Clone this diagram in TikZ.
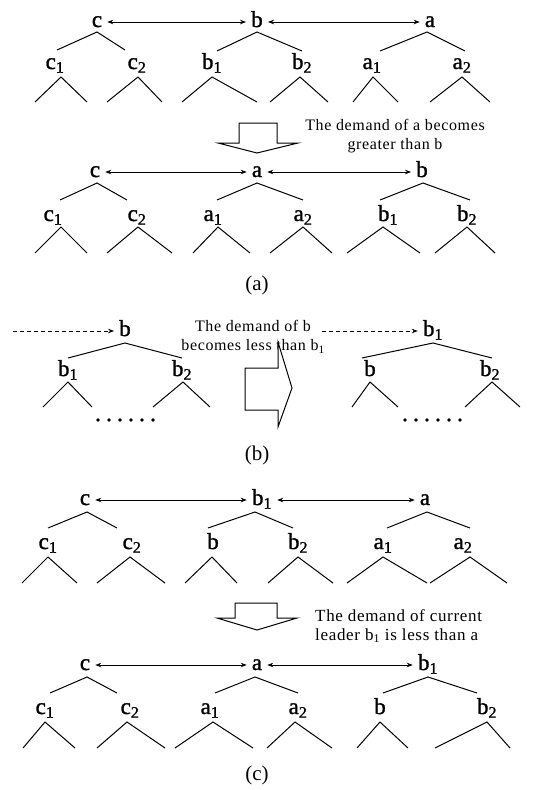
\documentclass[tikz,border=0pt]{standalone}
\usepackage{fontspec}
\setmainfont{Liberation Serif}
\newfontfamily\lblfont[FakeBold=1.2]{Liberation Serif}
\usetikzlibrary{arrows.meta}
\newcommand\sub[1]{\textsubscript{#1}}
\newcommand\branch[6]{\coordinate (#1t) at (#2,#3); \coordinate (#1l) at (#4,#6); \coordinate (#1r) at (#5,#6); \draw[br] (#1l) -- (#1t) -- (#1r);}
\tikzset{
 lbl/.style={anchor=base, inner sep=0pt, inner xsep=5pt, text height=10pt, text depth=0pt, font=\lblfont\fontsize{23}{25}\selectfont},
 link/.style={{Stealth[length=6pt,width=4.5pt]}-{Stealth[length=6pt,width=4.5pt]}, line width=0.8pt},
 dlink/.style={-{Stealth[length=6pt,width=4.5pt]}, dash pattern=on 4pt off 3pt, line width=0.8pt},
 br/.style={line width=1pt},
 blk/.style={draw, line width=1pt, fill=white},
 note/.style={font=\fontsize{16}{19}\selectfont\addfontfeature{LetterSpace=4}, align=center, inner sep=0pt},
 capt/.style={font=\fontsize{21}{23}\selectfont, inner sep=0pt}
}
\begin{document}
\begin{tikzpicture}[x=1pt,y=-1pt]
\fill[white] (0,0) rectangle (543,790);
\useasboundingbox (0,0) rectangle (543,790);
% ---------- (a) row 1
\node[lbl] (a1c) at (97,27) {c};
\node[lbl] (a1b) at (257,27) {b};
\node[lbl] (a1a) at (430,27) {a};
\draw[link] (a1c) -- (a1b);
\draw[link] (a1b) -- (a1a);
\branch{a1C}{97}{32}{57}{125}{50}
\branch{a1B}{257}{32}{217}{302}{51}
\branch{a1A}{427}{32}{380}{465}{51}
\node[lbl] (a1c1) at (55,69) {c\sub1};
\node[lbl] (a1c2) at (137,69) {c\sub2};
\node[lbl] (a1b1) at (212,69) {b\sub1};
\node[lbl] (a1b2) at (302,69) {b\sub2};
\node[lbl] (a1a1) at (372,69) {a\sub1};
\node[lbl] (a1a2) at (462,69) {a\sub2};
\branch{a1g1}{61}{77}{35}{87}{102}
\branch{a1g2}{138}{77}{107}{162}{102}
\branch{a1g3}{212}{77}{182}{257}{102}
\branch{a1g4}{300}{77}{270}{328}{102}
\branch{a1g5}{373}{77}{353}{398}{102}
\branch{a1g6}{462}{77}{430}{490}{102}
\draw[blk] (239,123) -- (277,123) -- (277,143) -- (298,143) -- (257,153) -- (218,143) -- (239,143) -- cycle;
\node[note] (na) at (395,136) {The demand of a becomes\\greater than b};
% ---------- (a) row 2
\node[lbl] (a2c) at (95,177) {c};
\node[lbl] (a2a) at (257,177) {a};
\node[lbl] (a2b) at (422,177) {b};
\draw[link] (a2c) -- (a2a);
\draw[link] (a2a) -- (a2b);
\branch{a2C}{97}{183}{60}{127}{200}
\branch{a2A}{257}{183}{217}{303}{200}
\branch{a2B}{423}{183}{380}{470}{200}
\node[lbl] (a2c1) at (53,221) {c\sub1};
\node[lbl] (a2c2) at (137,221) {c\sub2};
\node[lbl] (a2a1) at (213,221) {a\sub1};
\node[lbl] (a2a2) at (303,221) {a\sub2};
\node[lbl] (a2b1) at (388,221) {b\sub1};
\node[lbl] (a2b2) at (467,221) {b\sub2};
\branch{a2g1}{61}{227}{35}{87}{253}
\branch{a2g2}{138}{227}{107}{172}{253}
\branch{a2g3}{218}{227}{193}{250}{253}
\branch{a2g4}{303}{227}{270}{332}{253}
\branch{a2g5}{383}{227}{347}{420}{253}
\branch{a2g6}{467}{227}{435}{495}{253}
\node[capt] (capa) at (257,285) {(a)};
% ---------- (b)
\coordinate (bs1) at (13,331);
\node[lbl] (bL) at (125,336) {b};
\draw[dlink] (bs1) -- (bL);
\branch{bLt}{125}{343}{68}{182}{358}
\node[lbl] (bL1) at (68,376) {b\sub1};
\node[lbl] (bL2) at (182,376) {b\sub2};
\branch{bLg1}{68}{382}{43}{92}{407}
\branch{bLg2}{183}{382}{153}{210}{407}
\foreach \i in {0,...,5} \fill (98+11*\i,420) circle (1.8pt);
\node[note] (nb) at (253,337) {The demand of b\\becomes less than b\sub1};
\draw[blk] (245,368) -- (278,368) -- (278,342) -- (292,388) -- (278,427) -- (278,410) -- (245,410) -- cycle;
\coordinate (bs2) at (322,331);
\node[lbl] (bR) at (433,336) {b\sub1};
\draw[dlink] (bs2) -- (bR);
\branch{bRt}{433}{343}{362}{492}{358}
\node[lbl] (bR1) at (370,376) {b};
\node[lbl] (bR2) at (490,376) {b\sub2};
\branch{bRg1}{370}{382}{352}{398}{407}
\branch{bRg2}{492}{382}{465}{520}{407}
\foreach \i in {0,...,5} \fill (405+11*\i,420) circle (1.8pt);
\node[capt] (capb) at (257,455) {(b)};
% ---------- (c) row 1
\node[lbl] (c1c) at (85,505) {c};
\node[lbl] (c1b) at (262,505) {b\sub1};
\node[lbl] (c1a) at (425,505) {a};
\draw[link] (c1c) -- (c1b);
\draw[link] (c1b) -- (c1a);
\branch{c1C}{87}{512}{48}{117}{528}
\branch{c1B}{255}{512}{208}{293}{528}
\branch{c1A}{427}{512}{387}{470}{528}
\node[lbl] (c1c1) at (48,549) {c\sub1};
\node[lbl] (c1c2) at (132,549) {c\sub2};
\node[lbl] (c1bb) at (213,549) {b};
\node[lbl] (c1b2) at (298,549) {b\sub2};
\node[lbl] (c1a1) at (383,549) {a\sub1};
\node[lbl] (c1a2) at (463,549) {a\sub2};
\branch{c1g1}{48}{557}{22}{77}{583}
\branch{c1g2}{130}{557}{97}{165}{583}
\branch{c1g3}{212}{557}{185}{237}{583}
\branch{c1g4}{298}{557}{268}{333}{583}
\branch{c1g5}{383}{557}{347}{427}{583}
\branch{c1g6}{470}{557}{430}{507}{583}
\draw[blk] (235,603) -- (277,603) -- (277,618) -- (297,618) -- (257,630) -- (217,618) -- (235,618) -- cycle;
\node[note, anchor=west, align=left, font=\fontsize{17}{19}\selectfont\addfontfeature{LetterSpace=4}] (nc) at (315,626) {The demand of current\\leader b\sub1 is less than a};
% ---------- (c) row 2
\node[lbl] (c2c) at (85,670) {c};
\node[lbl] (c2a) at (257,670) {a};
\node[lbl] (c2b) at (428,670) {b\sub1};
\draw[link] (c2c) -- (c2a);
\draw[link] (c2a) -- (c2b);
\branch{c2C}{87}{677}{50}{117}{693}
\branch{c2A}{255}{677}{215}{298}{693}
\branch{c2B}{428}{677}{383}{477}{693}
\node[lbl] (c2c1) at (45,714) {c\sub1};
\node[lbl] (c2c2) at (130,714) {c\sub2};
\node[lbl] (c2a1) at (210,714) {a\sub1};
\node[lbl] (c2a2) at (298,714) {a\sub2};
\node[lbl] (c2bb) at (380,714) {b};
\node[lbl] (c2b2) at (487,714) {b\sub2};
\branch{c2g1}{45}{722}{23}{75}{748}
\branch{c2g2}{127}{722}{97}{165}{748}
\branch{c2g3}{213}{722}{175}{253}{748}
\branch{c2g4}{295}{722}{267}{332}{748}
\branch{c2g5}{380}{722}{357}{408}{748}
\branch{c2g6}{487}{722}{435}{510}{748}
\node[capt] (capc) at (257,775) {(c)};
\end{tikzpicture}
\end{document}
